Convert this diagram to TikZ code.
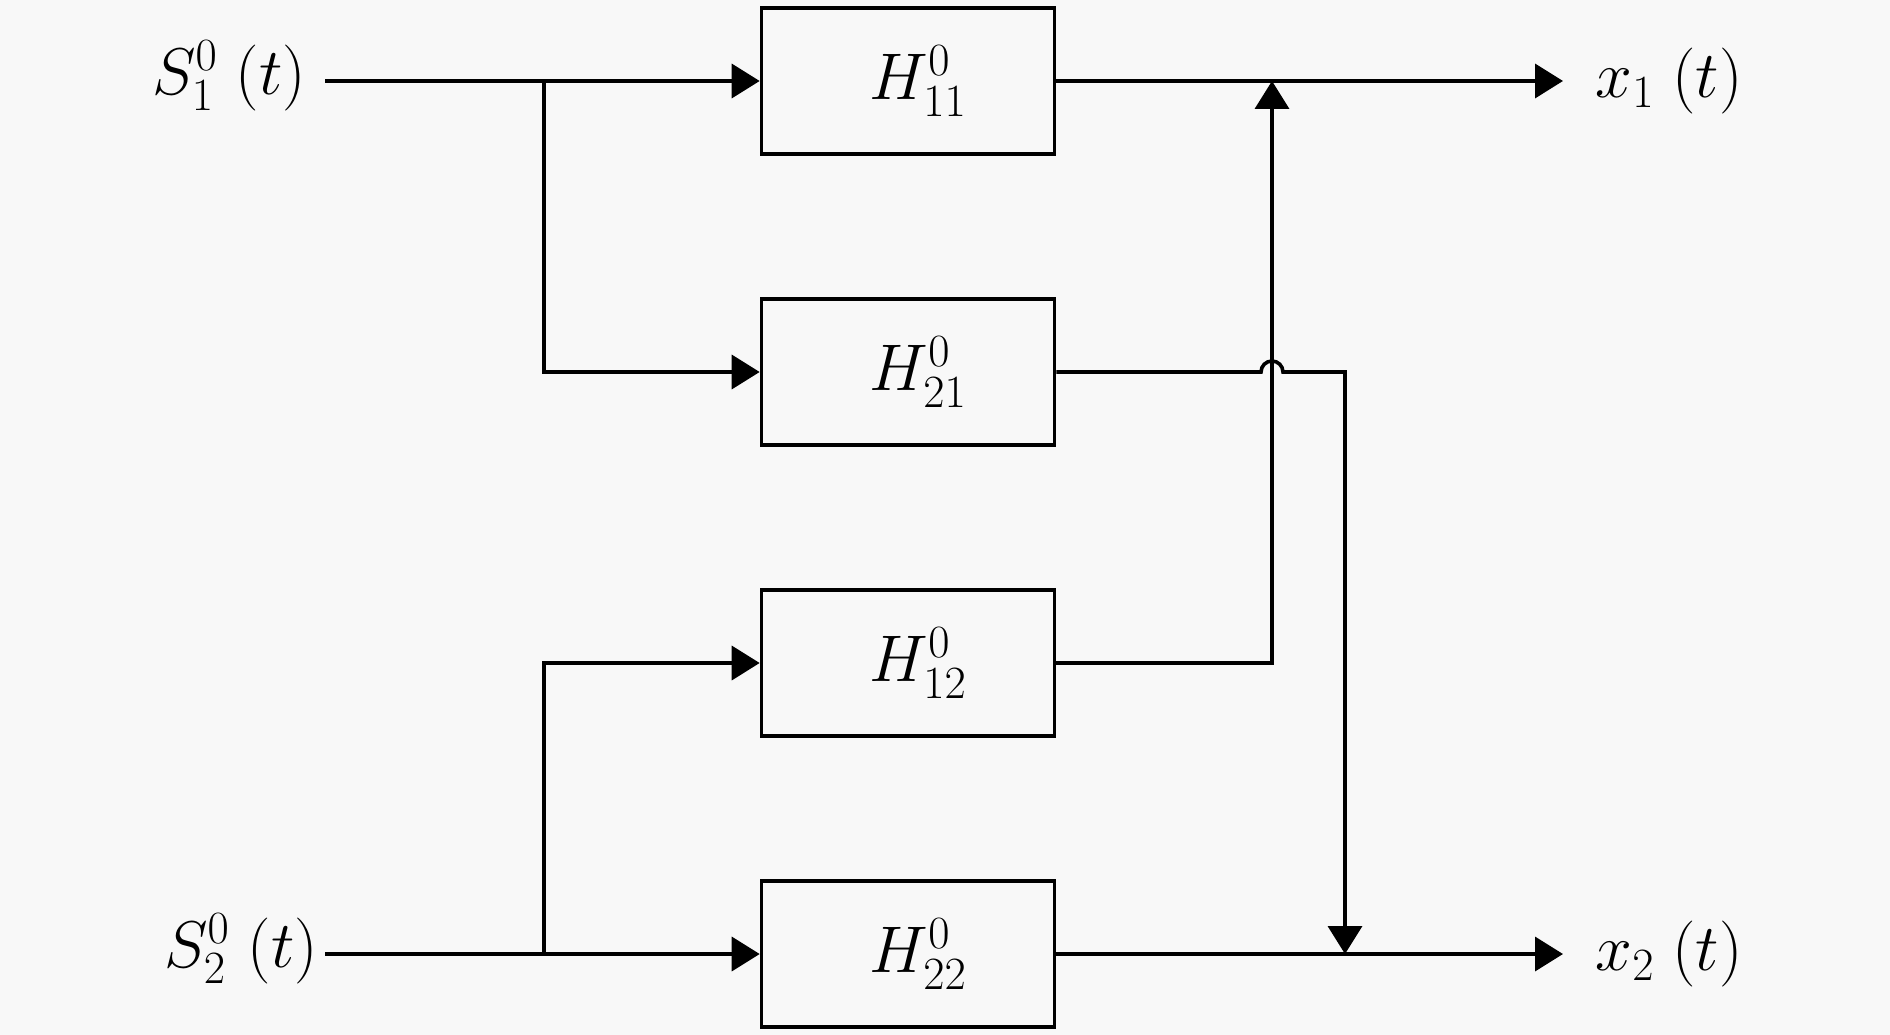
\RequirePackage{fix-cm}
\documentclass[tikz,border=0pt]{standalone}
\usetikzlibrary{arrows.meta}
\begin{document}
\begin{tikzpicture}[x=1pt,y=-1pt,
  blk/.style={draw,line width=3.6pt,minimum width=293pt,minimum height=146pt,inner sep=0pt,
    font=\fontsize{66}{78}\selectfont},
  lab/.style={inner sep=0pt,font=\fontsize{66}{78}\selectfont},
  wire/.style={line width=3.6pt},
  arr/.style={wire,-{Triangle[length=28pt,width=34pt]}}]
\fill[color={rgb,255:red,248;green,248;blue,248}] (0,0) rectangle (1890,1035);
\useasboundingbox (0,0) rectangle (1890,1035);
\node[blk] (h11) at (908,81) {\hspace*{20pt}$H_{11}^0$};
\node[blk] (h21) at (908,372) {\hspace*{20pt}$H_{21}^0$};
\node[blk] (h12) at (908,663) {\hspace*{20pt}$H_{12}^0$};
\node[blk] (h22) at (908,954) {\hspace*{20pt}$H_{22}^0$};
\node[lab] (s1) at (229,76) {$S_1^0\;(t)$};
\node[lab] (s2) at (241,949) {$S_2^0\;(t)$};
\node[lab] (x1) at (1669,81) {$x_1\;(t)$};
\node[lab] (x2) at (1669,954) {$x_2\;(t)$};
\coordinate (in1) at (325,81);
\coordinate (in2) at (325,954);
\coordinate (b1) at (544,81);
\coordinate (b2) at (544,954);
\coordinate (o1) at (1563,81);
\coordinate (o2) at (1563,954);
\coordinate (up) at (1272,81);
\coordinate (dn) at (1345,954);
\draw[arr] (in1) -- (h11.west);
\draw[arr] (b1) |- (h21.west);
\draw[arr] (in2) -- (h22.west);
\draw[arr] (b2) |- (h12.west);
\draw[arr] (h11.east) -- (o1);
\draw[arr] (h22.east) -- (o2);
\draw[arr] (h12.east) -| (up);
\draw[arr] (h21.east) -- (1261,372) arc[start angle=180,end angle=360,radius=11] -- (1345,372) -- (dn);
\end{tikzpicture}
\end{document}
